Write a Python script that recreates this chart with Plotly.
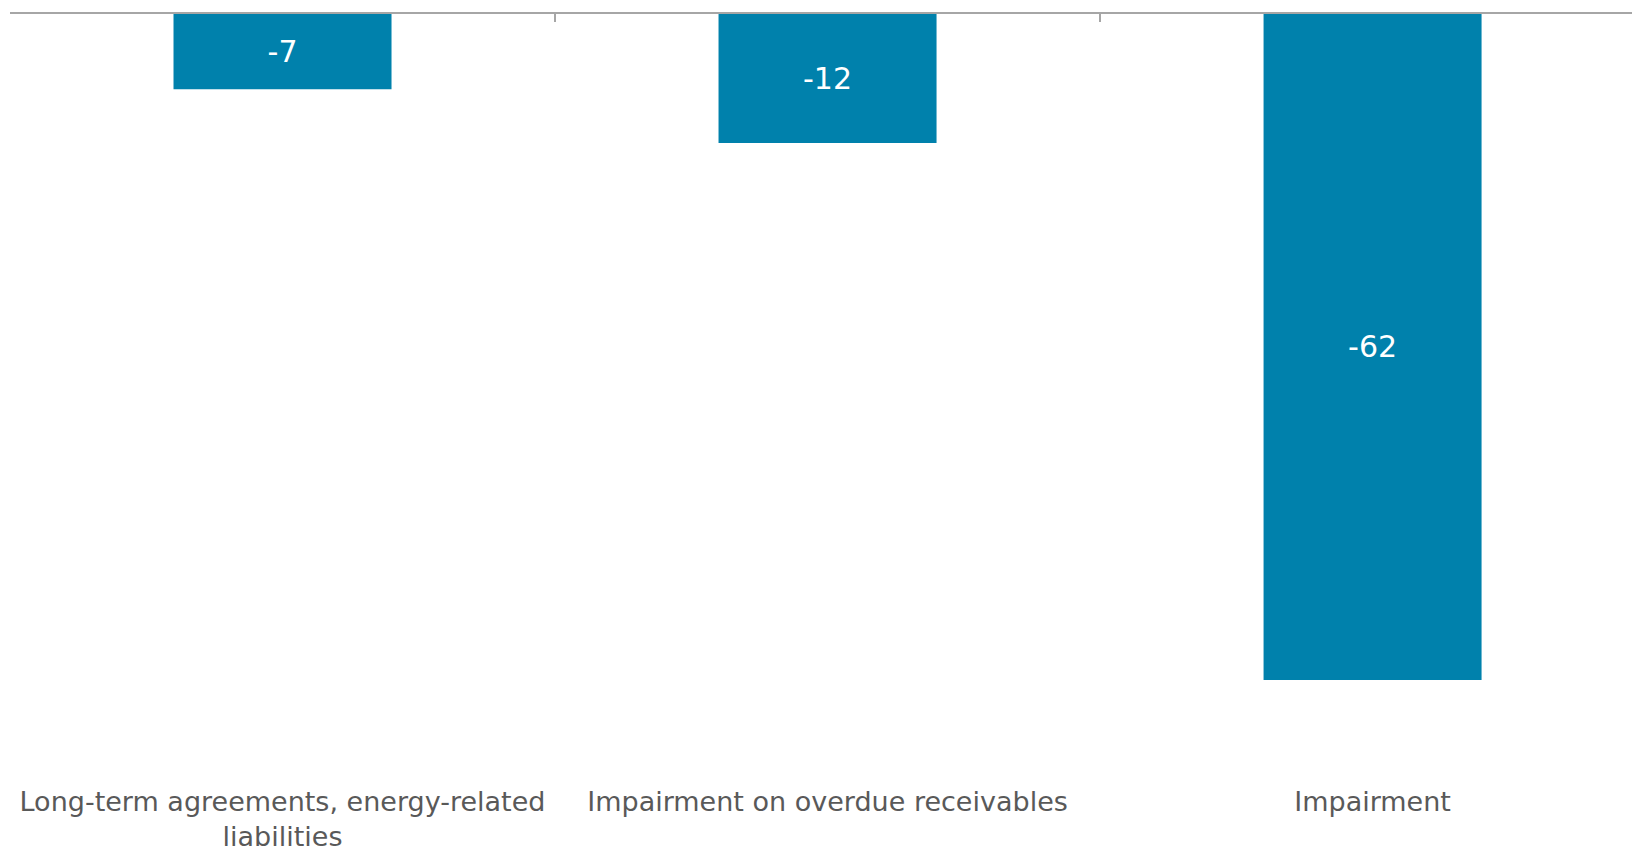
import plotly.graph_objects as go

categories = [
    "Long-term agreements, energy-related<br>liabilities",
    "Impairment on overdue receivables",
    "Impairment",
]
values = [-7, -12, -62]
boundary_ticks = [-0.5, 0.5, 1.5, 2.5]

BAR_COLOR = "#0081AC"
TEXT_COLOR = "#595959"
AXIS_COLOR = "#A6A6A6"
FONT = "DejaVu Sans"

fig = go.Figure()
fig.add_trace(go.Bar(
    x=categories,
    y=values,
    width=0.4,
    marker=dict(color=BAR_COLOR, line=dict(width=0)),
    text=[str(v) for v in values],
    textposition="inside",
    insidetextanchor="middle",
    textangle=0,
    textfont=dict(family=FONT, size=30, color="white"),
    hoverinfo="skip",
))
# invisible helper trace so the top (boundary-tick) axis is rendered
fig.add_trace(go.Scatter(
    x=boundary_ticks,
    y=[0] * len(boundary_ticks),
    xaxis="x2",
    yaxis="y",
    mode="markers",
    marker=dict(opacity=0, size=1),
    hoverinfo="skip",
    showlegend=False,
))

x_range = [-0.5, 2.476]
y_min = -71.6
fig.update_layout(
    width=1632,
    height=848,
    margin=dict(l=10, r=0, t=14, b=65, autoexpand=False),
    paper_bgcolor="white",
    plot_bgcolor="white",
    showlegend=False,
    bargap=0.6,
    font=dict(family=FONT, color=TEXT_COLOR),
    xaxis=dict(
        type="category",
        range=x_range,
        side="bottom",
        automargin=False,
        showline=False,
        showgrid=False,
        zeroline=False,
        ticks="",
        tickfont=dict(family=FONT, size=27, color=TEXT_COLOR),
        fixedrange=True,
    ),
    xaxis2=dict(
        overlaying="x",
        side="top",
        anchor="y",
        automargin=False,
        range=x_range,
        showline=True,
        linecolor=AXIS_COLOR,
        linewidth=2,
        showgrid=False,
        zeroline=False,
        tickmode="array",
        tickvals=boundary_ticks,
        ticks="inside",
        ticklen=8,
        tickwidth=2,
        tickcolor=AXIS_COLOR,
        showticklabels=False,
    ),
    yaxis=dict(
        range=[y_min, 0],
        visible=False,
        automargin=False,
        showgrid=False,
        zeroline=False,
    ),
)

fig.write_html("out.html")
